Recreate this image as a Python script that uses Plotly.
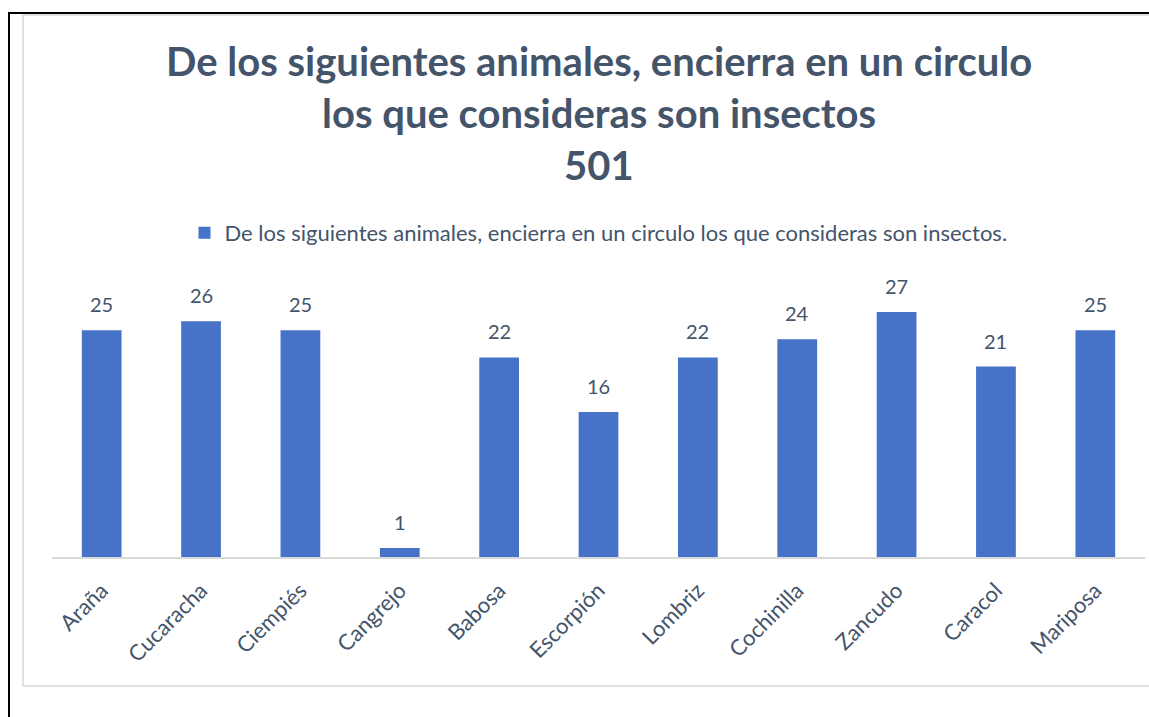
import plotly.graph_objects as go

categories = ["Araña", "Cucaracha", "Ciempiés", "Cangrejo", "Babosa", "Escorpión",
              "Lombriz", "Cochinilla", "Zancudo", "Caracol", "Mariposa"]
values = [25, 26, 25, 1, 22, 16, 22, 24, 27, 21, 25]
series_name = "De los siguientes animales, encierra en un circulo los que consideras son insectos."
title_lines = ["De los siguientes animales, encierra en un circulo",
               "los que consideras son insectos",
               "501"]

W, H = 1149, 717
L, R, T, B = 52, 4, 270, 160
PW, PH = W - L - R, H - T - B
TXT = "#44546a"
FONT = "Lato"


def px(x):
    return (x - L) / PW


def py(y):
    return (H - B - y) / PH


fig = go.Figure()
fig.add_trace(go.Bar(
    x=categories, y=values, name=series_name,
    marker=dict(color="#4673c8", line=dict(width=0)),
    showlegend=True,
))

annotations = []
for c, v in zip(categories, values):
    annotations.append(dict(x=c, y=v, xref="x", yref="y", text=str(v), showarrow=False,
                            yanchor="bottom", yshift=12,
                            font=dict(family=FONT, size=20, color=TXT)))
for i, (line, yc) in enumerate(zip(title_lines, [61, 113, 165])):
    annotations.append(dict(x=0.5, xref="paper", y=py(yc), yref="paper", text="<b>%s</b>" % line,
                            showarrow=False, xanchor="center", yanchor="middle",
                            font=dict(family=FONT, size=40, color=TXT)))

shapes = [
    # outer chart border (light gray)
    dict(type="line", xref="paper", yref="paper", x0=px(22), x1=px(W + 5), y0=py(15), y1=py(15),
         line=dict(color="#dde1e6", width=2)),
    dict(type="line", xref="paper", yref="paper", x0=px(23), x1=px(23), y0=py(15), y1=py(686),
         line=dict(color="#dde1e6", width=2)),
    dict(type="line", xref="paper", yref="paper", x0=px(22), x1=px(W + 5), y0=py(686), y1=py(686),
         line=dict(color="#dde1e6", width=2)),
    # black page lines
    dict(type="line", xref="paper", yref="paper", x0=px(8), x1=px(W + 5), y0=py(13), y1=py(13),
         line=dict(color="black", width=2)),
    dict(type="line", xref="paper", yref="paper", x0=px(9), x1=px(9), y0=py(13), y1=py(H + 5),
         line=dict(color="black", width=2)),
]

fig.update_layout(
    width=W, height=H,
    margin=dict(l=L, r=R, t=T, b=B),
    paper_bgcolor="white", plot_bgcolor="white",
    bargap=0.6,
    font=dict(family=FONT, color=TXT),
    annotations=annotations,
    shapes=shapes,
    legend=dict(orientation="h", x=0.5, xanchor="center", y=py(233), yanchor="middle",
                font=dict(family=FONT, size=22, color=TXT), itemwidth=30),
    xaxis=dict(showline=True, linecolor="#d9d9d9", linewidth=2, ticks="",
               tickangle=-45, tickfont=dict(family=FONT, size=22, color=TXT),
               ticklabelstandoff=10,
               showgrid=False, zeroline=False, fixedrange=True),
    yaxis=dict(range=[0, PH / 9.07], visible=False, showgrid=False, zeroline=False),
)

fig.write_html("out.html")
